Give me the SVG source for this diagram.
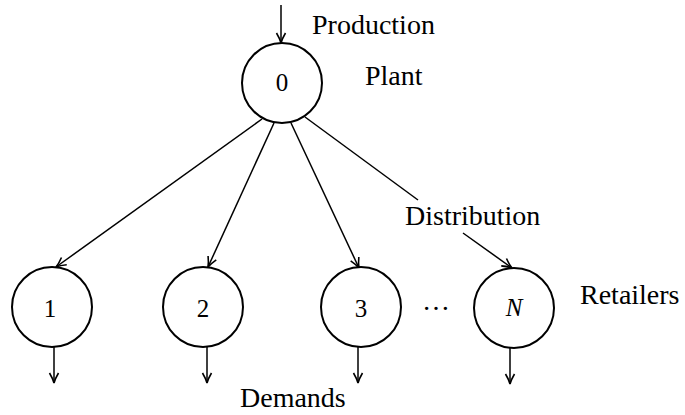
<svg xmlns="http://www.w3.org/2000/svg" width="685" height="415" viewBox="0 0 685 415">
<defs>
<marker id="arr" markerWidth="14" markerHeight="12" refX="11" refY="6" orient="auto" markerUnits="userSpaceOnUse">
<path d="M1,1.5 Q7,5 11,6 Q7,7 1,10.5" fill="none" stroke="#000" stroke-width="1.6"/>
</marker>
<style>
.node circle{fill:#fff;stroke:#000;stroke-width:2}
.num{font-family:"Liberation Serif",serif;font-size:25px;text-anchor:middle}
.lbl{font-family:"Liberation Serif",serif;font-size:28px}
.edge{stroke:#000;stroke-width:1.5;fill:none}
.arrow{marker-end:url(#arr)}
</style>
</defs>
<rect width="685" height="415" fill="#fff"/>
<g id="connectors">
<line class="edge arrow" x1="281" y1="5" x2="281" y2="43"/>
<line class="edge arrow" x1="262" y1="119" x2="56" y2="267"/>
<line class="edge arrow" x1="274" y1="123" x2="208" y2="267"/>
<line class="edge arrow" x1="291" y1="123" x2="359" y2="268"/>
<line class="edge" x1="305" y1="117" x2="418" y2="200"/>
<line class="edge arrow" x1="463" y1="233" x2="512" y2="268"/>
<line class="edge arrow" x1="54" y1="347" x2="54" y2="383"/>
<line class="edge arrow" x1="207" y1="347" x2="207" y2="383"/>
<line class="edge arrow" x1="358" y1="347" x2="358" y2="383"/>
<line class="edge arrow" x1="510" y1="347" x2="510" y2="384"/>
</g>
<g id="node0" class="node"><circle cx="282" cy="83" r="40"/><text class="num" x="282" y="91">0</text></g>
<g id="node1" class="node"><circle cx="52" cy="307" r="40"/><text class="num" x="50" y="317">1</text></g>
<g id="node2" class="node"><circle cx="203" cy="307" r="40"/><text class="num" x="203" y="317">2</text></g>
<g id="node3" class="node"><circle cx="361" cy="307" r="40"/><text class="num" x="361" y="317">3</text></g>
<g id="nodeN" class="node"><circle cx="514" cy="308" r="40"/><text class="num" x="514" y="316" font-style="italic">N</text></g>
<g id="labels">
<text class="lbl" x="312" y="34">Production</text>
<text class="lbl" x="365" y="85">Plant</text>
<text class="lbl" x="405" y="225">Distribution</text>
<text class="lbl" x="580" y="304">Retailers</text>
<text class="lbl" x="240" y="407">Demands</text>
<text class="lbl" x="422" y="310">…</text>
</g>
</svg>
